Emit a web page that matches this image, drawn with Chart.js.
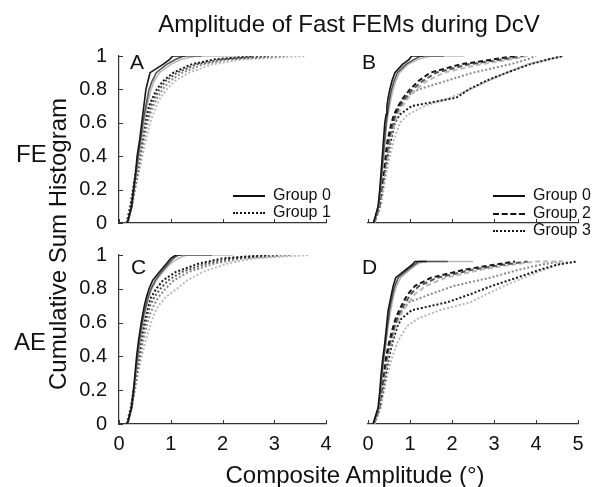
<!DOCTYPE html>
<html lang="en">
<head>
<meta charset="UTF-8">
<title>Amplitude of Fast FEMs during DcV</title>
<script src="https://cdn.jsdelivr.net/npm/chart.js"></script>
<style>
  body { margin: 0; background: #fff; }
  #fig { position: relative; width: 592px; height: 487px; overflow: hidden;
         font-family: "Liberation Sans", Arial, sans-serif; color: #111; }
  #fig canvas { position: absolute; left: 0; top: 0; }
  .txt { position: absolute; white-space: nowrap; line-height: 1; }
  .big { font-size: 24px; }
  .letter { font-size: 21px; }
  .leg { position: absolute; font-size: 16px; line-height: 1; white-space: nowrap; }
  .leg span.ln { display: inline-block; width: 32px; vertical-align: middle; margin-right: 8px; }
</style>
</head>
<body>
<div id="fig">
  <canvas id="chartA" width="592" height="487"></canvas>
  <canvas id="chartB" width="592" height="487"></canvas>
  <canvas id="chartC" width="592" height="487"></canvas>
  <canvas id="chartD" width="592" height="487"></canvas>

  <div class="txt big" style="left:349px; top:12px; transform:translateX(-50%);">Amplitude of Fast FEMs during DcV</div>
  <div class="txt big" style="left:16px; top:142px;">FE</div>
  <div class="txt big" style="left:14px; top:330px;">AE</div>
  <div class="txt big" style="left:58px; top:244px; transform:translate(-50%,-50%) rotate(-90deg);">Cumulative Sum Histogram</div>
  <div class="txt big" style="left:355px; top:463px; transform:translateX(-50%);">Composite Amplitude (°)</div>

  <div class="txt letter" style="left:130px; top:51px;">A</div>
  <div class="txt letter" style="left:362px; top:51px;">B</div>
  <div class="txt letter" style="left:131px; top:256px;">C</div>
  <div class="txt letter" style="left:362px; top:256px;">D</div>

  <div class="leg" style="left:233px; top:187px;"><span class="ln" style="border-top:2px solid #111;"></span>Group 0</div>
  <div class="leg" style="left:233px; top:204px;"><span class="ln" style="border-top:2px dotted #111;"></span>Group 1</div>

  <div class="leg" style="left:493px; top:187px;"><span class="ln" style="border-top:2px solid #111;"></span>Group 0</div>
  <div class="leg" style="left:493px; top:205px;"><span class="ln" style="border-top:2px dashed #111;"></span>Group 2</div>
  <div class="leg" style="left:493px; top:222px;"><span class="ln" style="border-top:2px dotted #111;"></span>Group 3</div>
</div>

<script>
  // cumulative fraction levels shared by every curve (last level repeated = flat tail)
  const yLevels = [0, 0.1, 0.2, 0.3, 0.4, 0.5, 0.6, 0.65, 0.7, 0.75, 0.8, 0.85, 0.9, 0.95, 0.98, 1, 1];
  const yTicks = [0, 0.2, 0.4, 0.6, 0.8, 1];
  const xTicksFE = [0, 1, 2, 3, 4];
  const xTicksAE = [0, 1, 2, 3, 4, 5];

  // Panel A (FE, groups 0 and 1) - amplitude in degrees at each level
  const A_g0_black = [0.16,0.24,0.28,0.32,0.35,0.40,0.44,0.46,0.48,0.50,0.52,0.56,0.60,0.85,0.98,1.04,1.28];
  const A_g0_dark  = [0.17,0.25,0.29,0.33,0.37,0.42,0.46,0.49,0.52,0.55,0.58,0.64,0.72,0.92,1.10,1.25,1.60];
  const A_g0_light = [0.16,0.24,0.29,0.34,0.38,0.43,0.48,0.51,0.54,0.58,0.62,0.68,0.78,1.00,1.20,1.50,2.30];
  const A_g1_black = [0.15,0.22,0.27,0.32,0.37,0.43,0.49,0.53,0.58,0.65,0.73,0.85,1.05,1.40,1.85,2.60,2.60];
  const A_g1_dark  = [0.16,0.24,0.29,0.35,0.40,0.46,0.52,0.57,0.62,0.69,0.78,0.90,1.12,1.50,2.00,2.90,2.90];
  const A_g1_gray  = [0.17,0.25,0.31,0.37,0.42,0.48,0.55,0.60,0.66,0.74,0.84,0.98,1.22,1.62,2.15,3.20,3.20];
  const A_g1_light = [0.14,0.22,0.30,0.38,0.45,0.52,0.60,0.66,0.72,0.80,0.92,1.08,1.35,1.80,2.40,3.60,3.60];

  // Panel B (FE, groups 0, 2 and 3)
  const B_g0_black = [0.13,0.24,0.28,0.31,0.34,0.37,0.40,0.43,0.45,0.48,0.52,0.57,0.64,0.82,0.98,1.04,1.32];
  const B_g0_dark  = [0.14,0.25,0.29,0.33,0.36,0.40,0.43,0.46,0.49,0.52,0.56,0.62,0.70,0.90,1.10,1.25,1.80];
  const B_g0_light = [0.15,0.26,0.30,0.34,0.38,0.41,0.45,0.48,0.51,0.55,0.60,0.66,0.75,0.95,1.20,1.48,2.30];
  const B_g2_black = [0.14,0.26,0.31,0.36,0.41,0.47,0.56,0.62,0.72,0.84,1.00,1.20,1.48,2.20,3.00,3.50,3.50];
  const B_g2_dark  = [0.15,0.27,0.32,0.38,0.44,0.50,0.60,0.66,0.76,0.90,1.06,1.30,1.62,2.40,3.20,3.70,3.70];
  const B_g2_light = [0.16,0.28,0.34,0.40,0.46,0.53,0.64,0.70,0.82,0.96,1.14,1.40,1.80,2.67,3.40,3.80,3.80];
  const B_g3_black = [0.15,0.28,0.34,0.40,0.47,0.55,0.64,0.76,1.04,2.10,2.40,2.80,3.30,3.85,4.30,4.65,4.65];
  const B_g3_gray  = [0.14,0.27,0.33,0.39,0.45,0.52,0.60,0.66,0.74,0.85,1.20,1.85,2.50,3.38,3.80,4.00,4.00];
  const B_g3_light = [0.16,0.30,0.37,0.44,0.52,0.62,0.76,0.95,1.35,1.95,2.43,2.85,3.30,3.80,4.30,4.65,4.65];

  // Panel C (AE, groups 0 and 1)
  const C_g0_black = [0.16,0.24,0.28,0.31,0.34,0.38,0.43,0.46,0.49,0.53,0.58,0.65,0.78,0.92,1.00,1.10,1.20];
  const C_g0_dark  = [0.17,0.25,0.29,0.32,0.36,0.40,0.45,0.48,0.52,0.56,0.62,0.70,0.82,0.96,1.05,1.15,1.80];
  const C_g0_light = [0.16,0.24,0.29,0.33,0.37,0.41,0.46,0.50,0.54,0.58,0.63,0.72,0.85,1.00,1.15,1.30,2.20];
  const C_g1_black = [0.15,0.23,0.28,0.33,0.37,0.42,0.48,0.52,0.56,0.62,0.72,0.85,1.10,1.55,2.00,2.85,2.85];
  const C_g1_dark  = [0.16,0.24,0.29,0.34,0.39,0.44,0.51,0.55,0.60,0.68,0.80,0.95,1.22,1.70,2.20,3.10,3.10];
  const C_g1_gray  = [0.17,0.25,0.30,0.35,0.41,0.47,0.55,0.60,0.67,0.76,0.90,1.06,1.35,1.85,2.40,3.30,3.30];
  const C_g1_light = [0.15,0.24,0.31,0.37,0.44,0.52,0.62,0.68,0.76,0.90,1.12,1.32,1.62,2.10,2.60,3.69,3.69];

  // Panel D (AE, groups 0, 2 and 3)
  const D_g0_black = [0.12,0.24,0.28,0.31,0.35,0.40,0.44,0.46,0.48,0.52,0.56,0.60,0.66,0.90,1.05,1.12,1.40];
  const D_g0_dark  = [0.13,0.25,0.29,0.33,0.37,0.42,0.46,0.49,0.51,0.55,0.59,0.64,0.72,0.95,1.10,1.20,1.90];
  const D_g0_light = [0.14,0.26,0.30,0.34,0.38,0.43,0.48,0.51,0.54,0.58,0.62,0.68,0.78,1.00,1.15,1.30,2.50];
  const D_g2_black = [0.13,0.26,0.31,0.36,0.42,0.50,0.60,0.66,0.74,0.84,0.95,1.12,1.50,2.30,3.00,3.50,3.50];
  const D_g2_dark  = [0.14,0.27,0.32,0.38,0.44,0.52,0.63,0.70,0.78,0.90,1.02,1.22,1.65,2.50,3.20,3.80,3.80];
  const D_g2_light = [0.15,0.28,0.34,0.40,0.47,0.55,0.67,0.74,0.84,0.98,1.12,1.38,1.85,2.70,3.40,4.00,4.65];
  const D_g3_black = [0.14,0.28,0.35,0.42,0.49,0.58,0.70,0.80,1.04,1.90,2.45,2.95,3.54,4.10,4.50,4.97,4.97];
  const D_g3_gray  = [0.13,0.27,0.33,0.40,0.46,0.54,0.64,0.70,0.80,0.98,1.50,2.05,2.90,3.60,4.10,4.60,4.60];
  const D_g3_light = [0.16,0.30,0.38,0.46,0.56,0.70,0.92,1.20,1.70,2.45,2.83,3.25,3.70,4.20,4.50,4.80,4.80];

  const BLACK = '#161616', DARK = '#555555', GRAY = '#8a8a8a', LIGHT = '#b8b8b8';
  const dashes = { solid: [], dash: [5, 3], dot: [2, 2] };
  const tickFont = { family: '"Liberation Sans", Arial, sans-serif', size: 20 };

  function curve(xs, color, style) {
    return {
      data: xs.map((x, i) => ({ x: x, y: yLevels[i] })),
      borderColor: color,
      borderWidth: style === 'solid' ? 1.6 : 2,
      borderDash: dashes[style],
      pointRadius: 0,
      fill: false,
      tension: 0
    };
  }

  // ticks pointing into the plot, like the original figure
  const inTicks = {
    id: 'inTicks',
    afterDraw(chart) {
      const ctx = chart.ctx, a = chart.chartArea;
      ctx.save();
      ctx.strokeStyle = '#333';
      ctx.lineWidth = 1;
      const xs = chart.scales.x;
      xs.ticks.forEach(t => {
        const px = Math.round(xs.getPixelForValue(t.value)) + 0.5;
        ctx.beginPath(); ctx.moveTo(px, a.bottom); ctx.lineTo(px, a.bottom - 4); ctx.stroke();
      });
      const ys = chart.scales.y;
      if (ys.options.display) {
        ys.ticks.forEach(t => {
          const py = Math.round(ys.getPixelForValue(t.value)) + 0.5;
          ctx.beginPath(); ctx.moveTo(a.left, py); ctx.lineTo(a.left + 4, py); ctx.stroke();
        });
      }
      ctx.restore();
    }
  };

  function panel(id, datasets, box, xTicks, yMax, showY, showX) {
    const yW = showY ? 60 : 0, xH = 40;
    new Chart(document.getElementById(id), {
      type: 'line',
      data: { datasets: datasets },
      options: {
        responsive: false,
        animation: false,
        devicePixelRatio: 1,
        layout: { padding: { left: box.left - yW, top: box.top, right: 592 - box.right, bottom: 487 - box.bottom - xH } },
        plugins: { legend: { display: false }, tooltip: { enabled: false } },
        scales: {
          x: {
            type: 'linear', min: 0, max: xTicks[xTicks.length - 1],
            afterFit: s => { s.height = xH; },
            afterBuildTicks: s => { s.ticks = xTicks.map(v => ({ value: v })); },
            ticks: { display: showX, font: tickFont, color: '#111', padding: 8, maxRotation: 0 },
            grid: { display: false, drawTicks: false },
            border: { display: true, color: '#333', width: 1.2 }
          },
          y: {
            display: showY, min: 0, max: yMax,
            afterFit: s => { s.width = yW; },
            afterBuildTicks: s => { s.ticks = yTicks.map(v => ({ value: v })); },
            ticks: { font: tickFont, color: '#111', padding: 12, callback: v => String(v) },
            grid: { display: false, drawTicks: false },
            border: { display: true, color: '#333', width: 1.2 }
          }
        }
      },
      plugins: [inTicks]
    });
  }

  panel('chartA', [
    curve(A_g0_black, BLACK, 'solid'), curve(A_g0_dark, DARK, 'solid'), curve(A_g0_light, LIGHT, 'solid'),
    curve(A_g1_black, BLACK, 'dot'), curve(A_g1_dark, DARK, 'dot'), curve(A_g1_gray, GRAY, 'dot'), curve(A_g1_light, LIGHT, 'dot')
  ], { left: 119, right: 326, top: 56, bottom: 223 }, xTicksFE, 1, true, false);

  panel('chartB', [
    curve(B_g0_black, BLACK, 'solid'), curve(B_g0_dark, DARK, 'solid'), curve(B_g0_light, LIGHT, 'solid'),
    curve(B_g2_black, BLACK, 'dash'), curve(B_g2_dark, DARK, 'dash'), curve(B_g2_light, LIGHT, 'dash'),
    curve(B_g3_black, BLACK, 'dot'), curve(B_g3_gray, GRAY, 'dot'), curve(B_g3_light, LIGHT, 'dot')
  ], { left: 368, right: 578, top: 56, bottom: 223 }, xTicksAE, 1, false, false);

  panel('chartC', [
    curve(C_g0_black, BLACK, 'solid'), curve(C_g0_dark, DARK, 'solid'), curve(C_g0_light, LIGHT, 'solid'),
    curve(C_g1_black, BLACK, 'dot'), curve(C_g1_dark, DARK, 'dot'), curve(C_g1_gray, GRAY, 'dot'), curve(C_g1_light, LIGHT, 'dot')
  ], { left: 119, right: 326, top: 255, bottom: 424 }, xTicksFE, 1, true, true);

  panel('chartD', [
    curve(D_g0_black, BLACK, 'solid'), curve(D_g0_dark, DARK, 'solid'), curve(D_g0_light, LIGHT, 'solid'),
    curve(D_g2_black, BLACK, 'dash'), curve(D_g2_dark, DARK, 'dash'), curve(D_g2_light, LIGHT, 'dash'),
    curve(D_g3_black, BLACK, 'dot'), curve(D_g3_gray, GRAY, 'dot'), curve(D_g3_light, LIGHT, 'dot')
  ], { left: 368, right: 578, top: 255, bottom: 424 }, xTicksAE, 1.04, false, true);
</script>
</body>
</html>
